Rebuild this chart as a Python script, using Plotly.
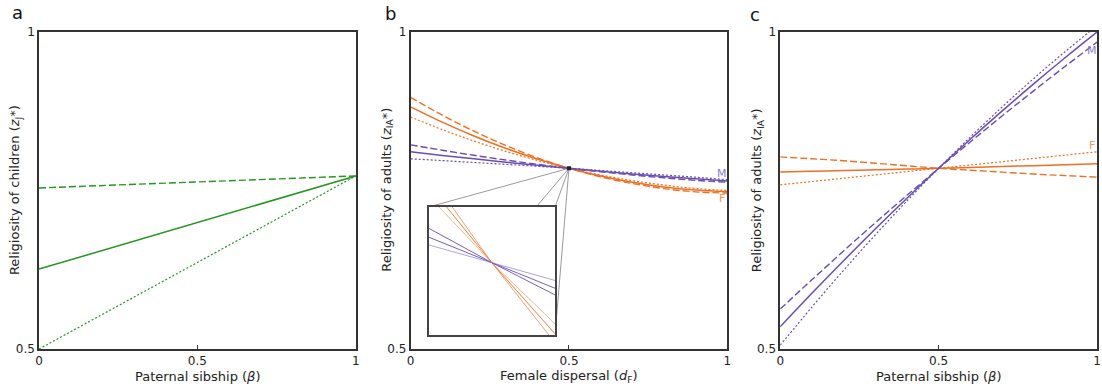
import plotly.graph_objects as go

# ---------------- data ----------------
x_grid = [0, 0.1, 0.2, 0.3, 0.4, 0.5, 0.6, 0.7, 0.8, 0.9, 1.0]

# Panel a: religiosity of children vs paternal sibship
a_x = [0, 0.5, 1]
a_dashed = [0.754, 0.7635, 0.773]
a_solid = [0.626, 0.6995, 0.773]
a_dotted = [0.500, 0.6365, 0.773]

# Panel b: religiosity of adults vs female dispersal
b_orange_dashed = [0.897, 0.8688, 0.8436, 0.8212, 0.8016, 0.785, 0.7716, 0.7610, 0.7530, 0.7478, 0.746]
b_orange_solid = [0.882, 0.8578, 0.8360, 0.8166, 0.7996, 0.785, 0.7728, 0.7630, 0.7556, 0.7506, 0.748]
b_orange_dotted = [0.866, 0.8460, 0.8280, 0.8118, 0.7974, 0.785, 0.7744, 0.7656, 0.7585, 0.7532, 0.750]
b_purple_dashed = [0.822, 0.8135, 0.8055, 0.7981, 0.7913, 0.785, 0.7795, 0.7745, 0.7700, 0.7660, 0.763]
b_purple_solid = [0.811, 0.8053, 0.7999, 0.7947, 0.7897, 0.785, 0.7805, 0.7762, 0.7722, 0.7685, 0.765]
b_purple_dotted = [0.800, 0.7972, 0.7942, 0.7912, 0.7882, 0.785, 0.7816, 0.7780, 0.7745, 0.7710, 0.767]
b_cross_x = [0.5]
b_cross_y = [0.785]

# Panel b inset (zoom around the crossing point)
inset_x = [0.45, 0.5, 0.55]
inset_orange_dashed = [0.7930, 0.785, 0.7778]
inset_orange_solid = [0.7920, 0.785, 0.7786]
inset_orange_dotted = [0.7910, 0.785, 0.7795]
inset_purple_dashed = [0.7881, 0.785, 0.7821]
inset_purple_solid = [0.7873, 0.785, 0.7827]
inset_purple_dotted = [0.7866, 0.785, 0.7834]
inset_xrange = [0.45, 0.55]
inset_yrange = [0.7785, 0.790]

# Panel c: religiosity of adults vs paternal sibship
c_purple_dashed = [0.563, 0.6092, 0.6546, 0.6990, 0.7424, 0.785, 0.8266, 0.8674, 0.9072, 0.9460, 0.984]
c_purple_solid = [0.535, 0.5878, 0.6392, 0.6892, 0.7378, 0.785, 0.8308, 0.8752, 0.9182, 0.9598, 1.000]
c_purple_dotted = [0.506, 0.5661, 0.6241, 0.6799, 0.7335, 0.785, 0.8343, 0.8815, 0.9265, 0.9693, 1.010]
c_orange_dashed = [0.803, 0.8000, 0.7970, 0.7930, 0.7890, 0.785, 0.7820, 0.7790, 0.7760, 0.7735, 0.771]
c_orange_solid = [0.779, 0.7802, 0.7814, 0.7826, 0.7838, 0.785, 0.7864, 0.7878, 0.7892, 0.7906, 0.792]
c_orange_dotted = [0.759, 0.7642, 0.7694, 0.7746, 0.7798, 0.785, 0.7902, 0.7954, 0.8006, 0.8058, 0.811]

x_ticks = [0, 0.5, 1]
x_ticktext = ["0", "0.5", "1"]
y_ticks = [0.5, 1]
y_ticktext = ["0.5", "1"]

# ---------------- styles ----------------
GREEN = "#22961e"
ORANGE = "#ef6f22"
PURPLE = "#6a4db4"
ORANGE_L = "#f2965c"
PURPLE_L = "#8e7bc9"
AXC = "#333333"
FONT = "DejaVu Sans"
DASH = "7px,3px"
DOT = "2px,2px"

W, H = 1102, 387
ML, MR, MT, MB = 39, 1, 32, 38
PW = W - ML - MR
dom_a = [0.0, 318 / PW]
dom_b = [373 / PW, 691 / PW]
dom_c = [744 / PW, 1.0]
dom_ix = [(430 - ML) / PW, (557 - ML) / PW]
dom_iy = [(349 - 335) / 317, (349 - 207) / 317]

fig = go.Figure()


def add_line(x, y, color, dash, width, xa, ya, shape="spline"):
    fig.add_trace(go.Scatter(
        x=x, y=y, mode="lines", xaxis=xa, yaxis=ya,
        line=dict(color=color, dash=dash, width=width, shape=shape),
        showlegend=False, hoverinfo="skip"))


# panel a
add_line(a_x, a_dashed, GREEN, DASH, 1.4, "x", "y", "linear")
add_line(a_x, a_solid, GREEN, "solid", 1.5, "x", "y", "linear")
add_line(a_x, a_dotted, GREEN, DOT, 1.2, "x", "y", "linear")

# panel b
add_line(x_grid, b_orange_dashed, ORANGE, DASH, 1.4, "x2", "y2")
add_line(x_grid, b_orange_solid, ORANGE, "solid", 1.5, "x2", "y2")
add_line(x_grid, b_orange_dotted, ORANGE, DOT, 1.2, "x2", "y2")
add_line(x_grid, b_purple_dashed, PURPLE, DASH, 1.4, "x2", "y2")
add_line(x_grid, b_purple_solid, PURPLE, "solid", 1.5, "x2", "y2")
add_line(x_grid, b_purple_dotted, PURPLE, DOT, 1.2, "x2", "y2")
fig.add_trace(go.Scatter(x=b_cross_x, y=b_cross_y, mode="markers", xaxis="x2", yaxis="y2",
                         marker=dict(symbol="square", size=4, color="#222222"),
                         showlegend=False, hoverinfo="skip"))

# inset
add_line(inset_x, inset_orange_dashed, ORANGE_L, "solid", 0.9, "x4", "y4", "linear")
add_line(inset_x, inset_orange_solid, ORANGE, "solid", 0.9, "x4", "y4", "linear")
add_line(inset_x, inset_orange_dotted, ORANGE_L, "solid", 0.7, "x4", "y4", "linear")
add_line(inset_x, inset_purple_dashed, PURPLE, "solid", 0.9, "x4", "y4", "linear")
add_line(inset_x, inset_purple_solid, PURPLE, "solid", 0.9, "x4", "y4", "linear")
add_line(inset_x, inset_purple_dotted, PURPLE_L, "solid", 0.7, "x4", "y4", "linear")

# panel c
add_line(x_grid, c_orange_dashed, ORANGE, DASH, 1.4, "x3", "y3")
add_line(x_grid, c_orange_solid, ORANGE, "solid", 1.5, "x3", "y3")
add_line(x_grid, c_orange_dotted, ORANGE, DOT, 1.2, "x3", "y3")
add_line(x_grid, c_purple_dashed, PURPLE, DASH, 1.4, "x3", "y3")
add_line(x_grid, c_purple_solid, PURPLE, "solid", 1.5, "x3", "y3")
add_line(x_grid, c_purple_dotted, PURPLE, DOT, 1.2, "x3", "y3")

axis_common = dict(range=[0, 1], showgrid=False, zeroline=False, showline=True,
                   linecolor=AXC, linewidth=1.5, mirror=True, ticks="inside",
                   ticklen=4, tickcolor=AXC, tickfont=dict(family=FONT, size=12, color="#222"),
                   fixedrange=True)
xax = dict(axis_common, tickvals=x_ticks, ticktext=x_ticktext)
yax = dict(axis_common, range=[0.5, 1], tickvals=y_ticks, ticktext=y_ticktext, ticklen=0)

fig.update_layout(
    width=W, height=H, margin=dict(l=ML, r=MR, t=MT, b=MB),
    paper_bgcolor="white", plot_bgcolor="white",
    font=dict(family=FONT, size=12, color="#222"),
    xaxis=dict(xax, domain=dom_a, anchor="y"),
    yaxis=dict(yax, domain=[0, 1], anchor="x"),
    xaxis2=dict(xax, domain=dom_b, anchor="y2"),
    yaxis2=dict(yax, domain=[0, 1], anchor="x2"),
    xaxis3=dict(xax, domain=dom_c, anchor="y3"),
    yaxis3=dict(yax, domain=[0, 1], anchor="x3"),
    xaxis4=dict(domain=dom_ix, anchor="y4", range=inset_xrange, showgrid=False, zeroline=False,
                showline=True, linecolor="#444", linewidth=1.5, mirror=True,
                showticklabels=False, ticks="", fixedrange=True),
    yaxis4=dict(domain=dom_iy, anchor="x4", range=inset_yrange, showgrid=False, zeroline=False,
                showline=True, linecolor="#444", linewidth=1.5, mirror=True,
                showticklabels=False, ticks="", fixedrange=True),
)


# connector lines from the crossing point to the inset box (in panel b data coordinates)
def px_to_x2(px):
    return (px - 412) / 318.0


def px_to_y2(py):
    return 1 - (py - 32) / 634.0


targets = [(430, 207), (538, 207), (557, 207), (557, 335)]
for tx, ty in targets:
    fig.add_shape(type="line", xref="x2", yref="y2", x0=b_cross_x[0], y0=b_cross_y[0],
                  x1=px_to_x2(tx), y1=px_to_y2(ty), line=dict(color="#9a9a9a", width=1),
                  layer="below")


def paper_x(px):
    return (px - ML) / PW


def paper_y(py):
    return (349 - py) / 317.0


def note(text, px, py, size, color="#222", angle=0):
    return dict(text=text, x=paper_x(px), y=paper_y(py), xref="paper", yref="paper",
                xanchor="center", yanchor="middle", textangle=angle, showarrow=False,
                font=dict(family=FONT, size=size, color=color))


ann = []
# panel letters
for lt, px, py in [("a", 17, 13), ("b", 392, 14), ("c", 758, 15)]:
    ann.append(note(lt, px, py, 18, "#111"))
# y titles
for txt, px in [("Religiosity of children (<i>z</i><sub>J</sub>*)", 15),
                ("Religiosity of adults (<i>z</i><sub>IA</sub>*)", 388),
                ("Religiosity of adults (<i>z</i><sub>IA</sub>*)", 760)]:
    ann.append(note(txt, px, 190, 13, angle=-90))
# x titles
for txt, px in [("Paternal sibship (<i>β</i>)", 198),
                ("Female dispersal (<i>d</i><sub>F</sub>)", 571),
                ("Paternal sibship (<i>β</i>)", 942)]:
    ann.append(note(txt, px, 377, 13))
# series labels
for txt, px, py, col in [("M", 725, 173, PURPLE_L), ("F", 725, 198, ORANGE_L),
                         ("M", 1096, 51, PURPLE_L), ("F", 1096, 145, ORANGE_L)]:
    ann.append(note(txt, px, py, 11, col))
fig.update_layout(annotations=ann)

fig.write_html("out.html", config={"displayModeBar": False},
               post_script="document.body.style.margin='0';document.body.style.overflow='hidden';")
